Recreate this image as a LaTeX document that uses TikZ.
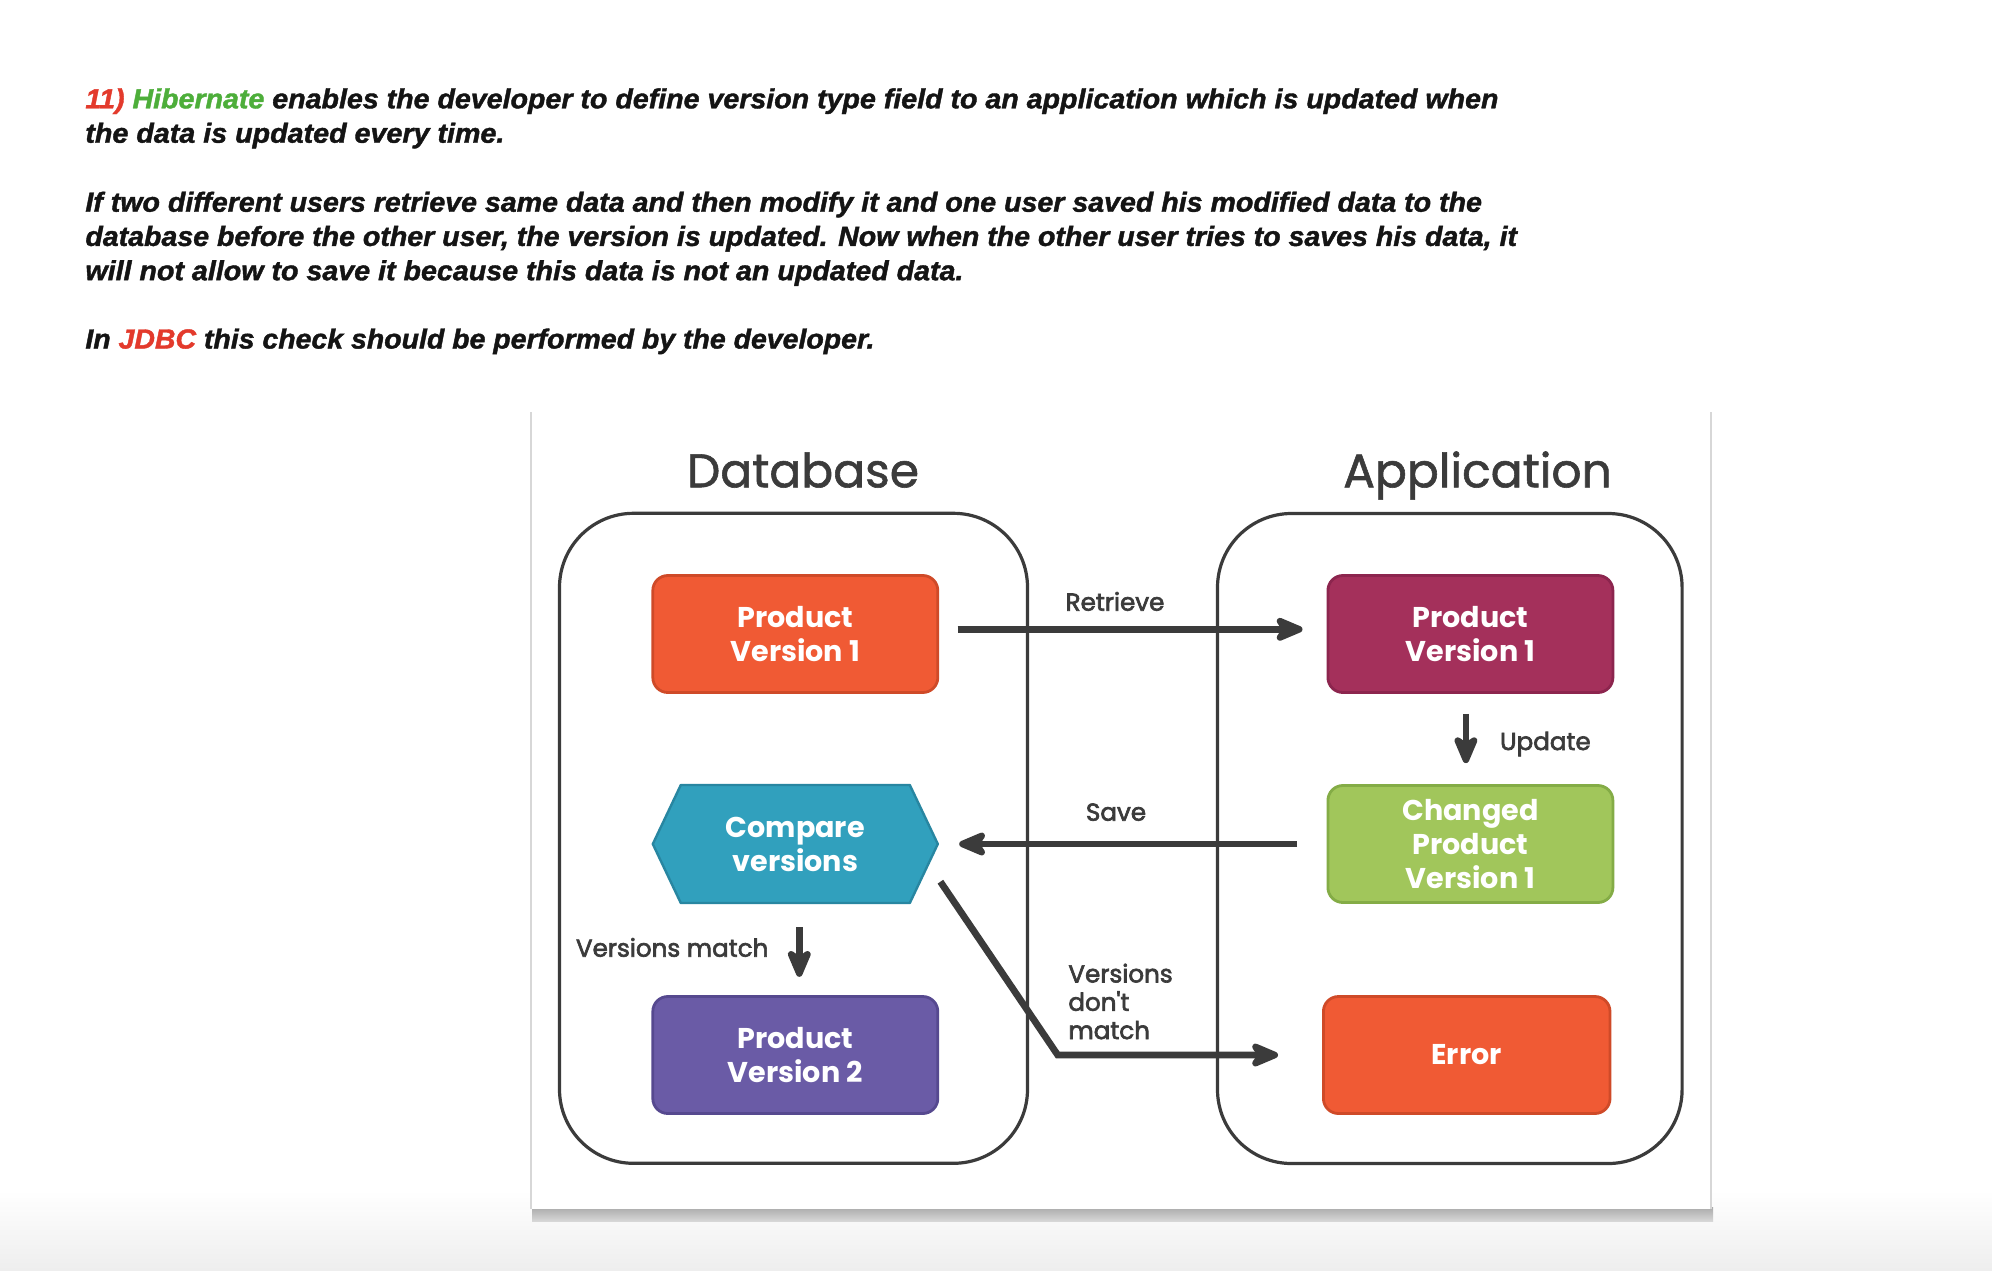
\documentclass[tikz,border=0pt]{standalone}
\usepackage{fontspec}
\usepackage{graphicx}
\setmainfont{Liberation Sans}
\newfontfamily\bodyfont{Liberation Sans}[FakeBold=1.4]
\newfontfamily\dgm{Poppins}
\newfontfamily\dgmfb{Poppins}[FakeBold=1.2]
\newfontfamily\dgmlb{Poppins}[FakeBold=2.6]
\usetikzlibrary{arrows.meta}
\definecolor{ink}{HTML}{3B3B3B}
\definecolor{bodyink}{HTML}{141414}
\definecolor{hred}{HTML}{E33A2C}
\definecolor{hgreen}{HTML}{4DAE3A}
\definecolor{orF}{HTML}{F05A34}
\definecolor{orD}{HTML}{CF4A28}
\definecolor{maF}{HTML}{A4305B}
\definecolor{maD}{HTML}{8C254E}
\definecolor{grF}{HTML}{A1C65B}
\definecolor{grD}{HTML}{84AC46}
\definecolor{teF}{HTML}{31A0BD}
\definecolor{teD}{HTML}{2886A1}
\definecolor{puF}{HTML}{6A5BA6}
\definecolor{puD}{HTML}{56498F}
\tikzset{
  bodyline/.style={anchor=base west, inner sep=0pt, text=bodyink,
    font=\bodyfont\bfseries\itshape\fontsize{13.8}{16}\selectfont},
  container/.style={draw=ink, line width=1.6pt, rounded corners=37pt,
    minimum width=234pt, minimum height=325pt, inner sep=0pt},
  title/.style={text=ink, inner sep=0pt, anchor=base, font=\dgmfb\fontsize{23.6}{30}\selectfont},
  box/.style={rounded corners=7.5pt, line width=1.4pt, minimum width=142.5pt,
    minimum height=58.5pt, text=white, align=center, inner sep=0pt,
    font=\dgm\bfseries\fontsize{14.3}{17}\selectfont},
  lbl/.style={text=ink, inner sep=0pt, align=left,
    font=\dgmlb\fontsize{12.3}{14.15}\selectfont},
  arr/.style={draw=ink, line width=3.4pt,
    -{Stealth[length=18pt,width=15pt,inset=5pt,round]}},
}
\begin{document}
\begin{tikzpicture}[x=0.5pt,y=-0.5pt]
\useasboundingbox (0,0) rectangle (1992,1270);
\fill[white] (0,0) rectangle (1992,1270);
\shade[top color=white, bottom color={rgb,255:red,238;green,238;blue,238}] (0,1190) rectangle (1992,1270);

% body text
\node[bodyline] (t1) at (85,108.3) {\resizebox{706.5pt}{\height}{{\color{hred}11)} {\color{hgreen}Hibernate} enables the developer to define version type field to an application which is updated when}};
\node[bodyline] (t2) at (85,142.7) {\resizebox{209.5pt}{\height}{the data is updated every time.}};
\node[bodyline] (t3) at (85,211.7) {\resizebox{698.3pt}{\height}{If two different users retrieve same data and then modify it and one user saved his modified data to the}};
\node[bodyline] (t4) at (85,245.9) {\resizebox{715.8pt}{\height}{database before the other user, the version is updated. Now when the other user tries to saves his data, it}};
\node[bodyline] (t5) at (85,280.2) {\resizebox{439pt}{\height}{will not allow to save it because this data is not an updated data.}};
\node[bodyline] (t6) at (85,348.5) {\resizebox{394.5pt}{\height}{In {\color{hred}JDBC} this check should be performed by the developer.}};

% panel
\shade[top color={rgb,255:red,170;green,170;blue,170}, bottom color={rgb,255:red,215;green,215;blue,215}] (532,1207) rectangle (1713,1221);
\fill[white] (530,410) rectangle (1712,1209);
\draw[draw={rgb,255:red,215;green,215;blue,215}, line width=1.2pt] (531,412) -- (531,1209);
\draw[draw={rgb,255:red,215;green,215;blue,215}, line width=1.2pt] (1711,412) -- (1711,1209);

% titles
\node[title] (tdb) at (803,487.3) {Database};
\node[title] (tapp) at (1477.5,487.3) {Application};

% containers
\node[container] (dbbox) at (793.5,838.3) {};
\node[container, minimum width=232.3pt] (appbox) at (1449.8,838.5) {};

% boxes
\node[box, fill=orF, draw=orD] (pvA) at (795.3,634) {Product\\Version 1};
\node[box, fill=maF, draw=maD] (pvB) at (1470.4,634) {Product\\Version 1};
\node[box, fill=grF, draw=grD] (chg) at (1470.4,844) {Changed\\Product\\Version 1};
\node[box, fill=puF, draw=puD] (pv2) at (795.3,1055) {Product\\Version 2};
\node[box, fill=orF, draw=orD, minimum width=143.3pt] (err) at (1466.7,1055) {Error};
\filldraw[fill=teF, draw=teD, line width=1.2pt, line join=round]
  (652.8,844) -- (680.8,785) -- (909.8,785) -- (937.8,844) -- (909.8,903) -- (680.8,903) -- cycle;
\node[box, draw=none, minimum height=59pt] (cmp) at (795.3,844) {Compare\\versions};

% connectors
\draw[arr] ([xshift=9.15pt,yshift=2.35pt]pvA.east) -- ([xshift=-12pt,yshift=2.35pt]pvB.west);
\node[lbl, anchor=base] (lret) at (1115,610.7) {Retrieve};
\draw[arr] ([xshift=-2.25pt,yshift=-10pt]pvB.south) -- ([xshift=-2.25pt,yshift=10.5pt]chg.north);
\node[lbl, anchor=base west] (lupd) at (1499.6,750) {Update};
\draw[arr] ([xshift=-14.65pt]chg.west) -- ([xshift=10pt]cmp.east);
\node[lbl, anchor=base] (lsave) at (1116,820.7) {Save};
\draw[arr] ([xshift=2pt,yshift=-11.35pt]cmp.south) -- ([xshift=2pt,yshift=9.15pt]pv2.north);
\node[lbl, anchor=base east] (lvm) at (768.8,956.7) {Versions match};
\coordinate (bend) at (1057.7,1055);
\draw[arr, line join=miter] ([xshift=0.6pt,yshift=-18.85pt]cmp.east) -- (bend) -- ([xshift=-22pt]err.west);
\node[lbl, anchor=west] (lvdm) at (1068,1001.5) {Versions\\don't\\match};
\end{tikzpicture}
\end{document}
